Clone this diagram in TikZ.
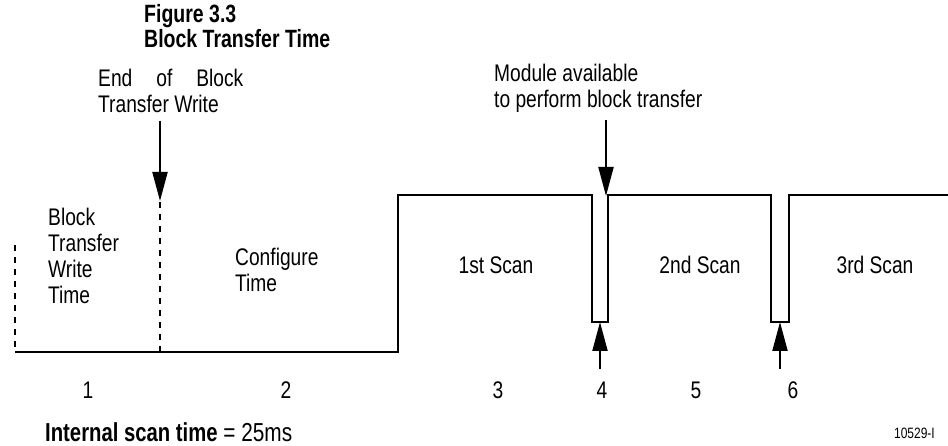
\documentclass[tikz,border=0pt]{standalone}
\usepackage{fontspec}
\setmainfont[FakeStretch=0.8]{Liberation Sans}
\newfontfamily\titlefont[FakeStretch=0.78]{Liberation Sans Bold}
\usetikzlibrary{arrows.meta,positioning}

\begin{document}
\begin{tikzpicture}[
        x=1pt, y=-1pt,
        label/.style={
            inner sep=0pt,
            align=left,
            font=\fontsize{24}{26}\selectfont
        },
        numlabel/.style={label, anchor=center},
        titletext/.style={
            inner sep=0pt,
            align=left,
            font=\fontsize{25}{22}\selectfont\titlefont
        },
        signal/.style={line width=2pt, line join=miter},
        marker/.style={line width=2.2pt, dash pattern=on 6pt off 6pt},
        arrow/.style={-{Triangle[length=29pt,width=15pt]}, line width=2pt}
    ]
    \useasboundingbox (0,0) rectangle (948,446);

    % signal corners
    \coordinate (start) at (15,352);
    \coordinate (rise) at (398,352);
    \coordinate (p4l) at (592,195);
    \coordinate (p4r) at (608,195);
    \coordinate (p6l) at (771,195);
    \coordinate (p6r) at (789,195);
    \coordinate (stop) at (948,195);

    \draw[signal] (start) -- (rise) -- (398,195) -- (p4l) -- (592,322)
        -- (608,322) -- (p4r) -- (p6l) -- (771,322) -- (789,322)
        -- (p6r) -- (stop);

    % dashed markers
    \coordinate (mark0top) at (15,245);
    \coordinate (mark0bot) at (15,352);
    \coordinate (mark1top) at (160,202);
    \coordinate (mark1bot) at (160,352);
    \draw[marker] (mark0top) -- (mark0bot);
    \draw[marker] (mark1top) -- (mark1bot);

    % arrows
    \coordinate (endtail) at (160,121);
    \coordinate (endtip) at (160,201);
    \coordinate (modtail) at (606,120);
    \coordinate (modtip) at (606,196);
    \coordinate (up4tail) at (600,369);
    \coordinate (up4tip) at (600,322);
    \coordinate (up6tail) at (780,369);
    \coordinate (up6tip) at (780,322);
    \draw[arrow] (endtail) -- (endtip);
    \draw[arrow] (modtail) -- (modtip);
    \draw[arrow] (up4tail) -- (up4tip);
    \draw[arrow] (up6tail) -- (up6tip);

    % titles
    \node[titletext, anchor=west] (title) at (144,26) {Figure 3.3\\Block Transfer Time};
    \node[label, anchor=west] (endwrite) at (98,91) {End\quad of\quad Block\\Transfer Write};
    \node[label, anchor=west] (modavail) at (494,88) {Module available\\to perform block transfer};

    % region texts
    \node[label, anchor=west] (btwtime) at (48,256) {Block\\Transfer\\Write\\Time};
    \node[label, anchor=west] (config) at (235,270) {Configure\\Time};
    \node[numlabel] (scan1) at (496,265) {1st Scan};
    \node[numlabel] (scan2) at (700,265) {2nd Scan};
    \node[numlabel] (scan3) at (875,265) {3rd Scan};

    % numbers
    \node[numlabel] (n1) at (88,390) {1};
    \node[numlabel] (n2) at (286,390) {2};
    \node[numlabel] (n3) at (498,390) {3};
    \node[numlabel] (n4) at (602,390) {4};
    \node[numlabel] (n5) at (696,390) {5};
    \node[numlabel] (n6) at (793,390) {6};

    % footer
    \node[inner sep=0pt, anchor=west, font=\fontsize{26}{28}\selectfont] (scantime) at (45,432) {{\titlefont Internal scan time} = 25ms};
    \node[inner sep=0pt, anchor=east, font=\fontsize{15}{16}\selectfont] (fignum) at (935,433) {10529-I};
\end{tikzpicture}
\end{document}
